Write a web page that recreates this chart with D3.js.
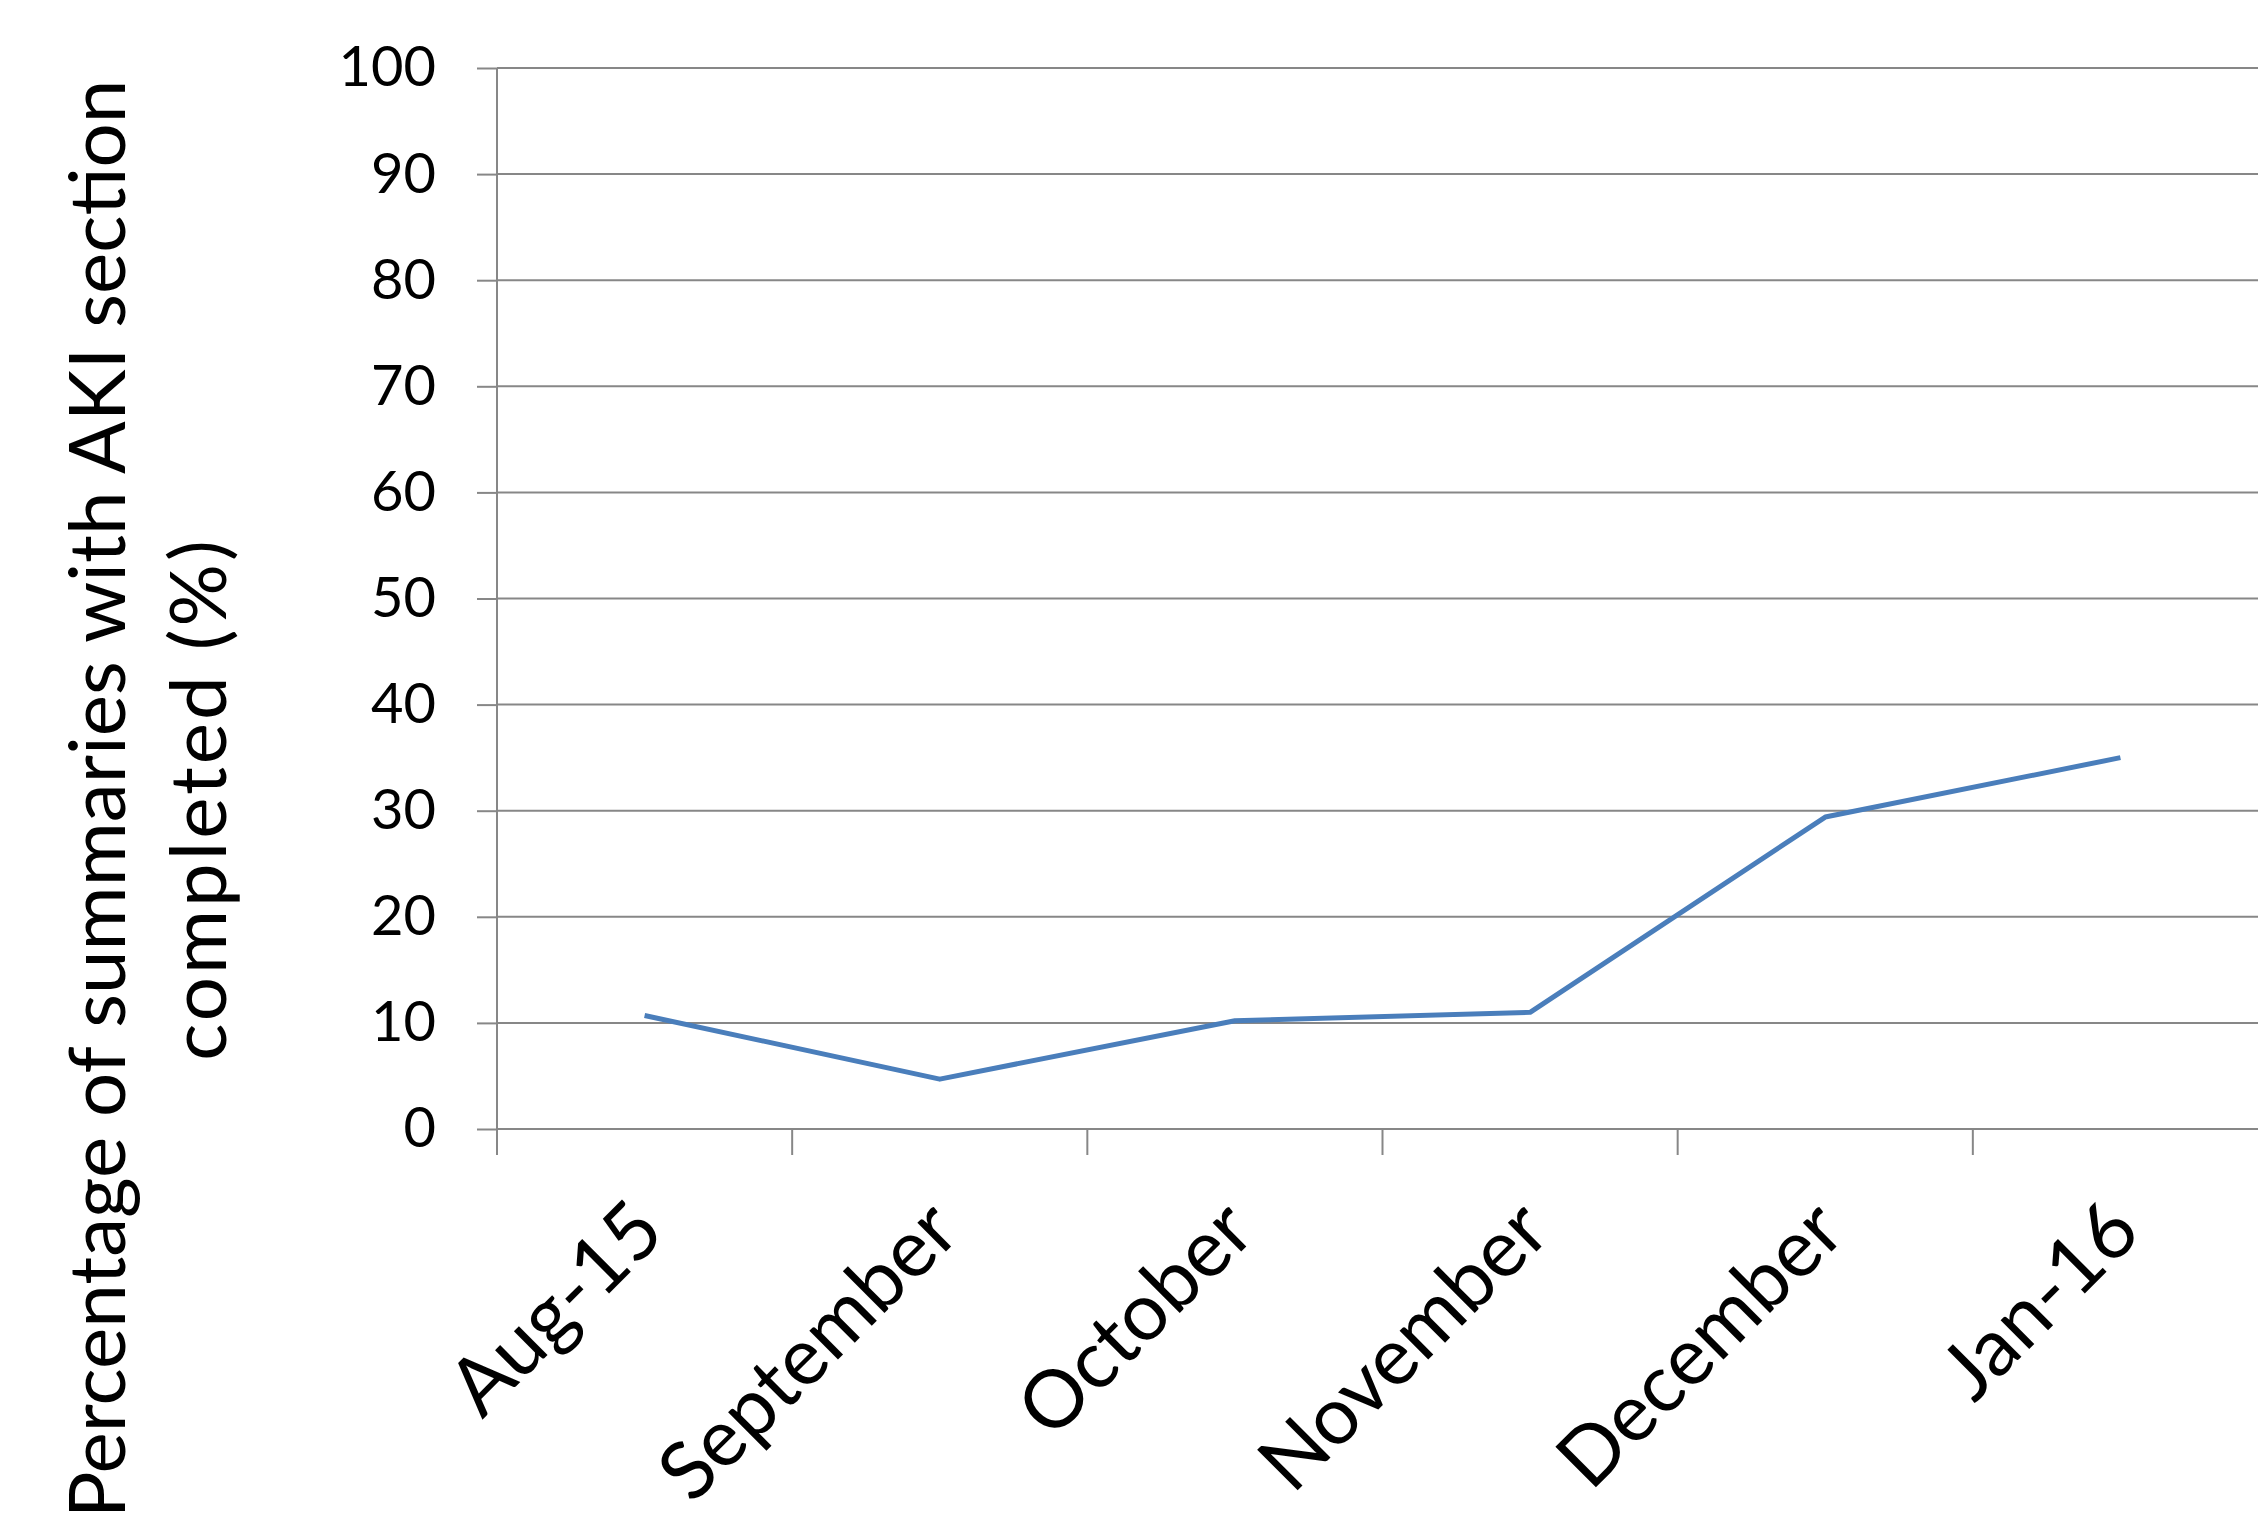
<!DOCTYPE html>
<html><head><meta charset="utf-8">
<script src="https://cdn.jsdelivr.net/npm/d3@7"></script>
<style>html,body{margin:0;padding:0;background:#fff;overflow:hidden}</style>
</head><body>
<svg id="c" width="2258" height="1514"></svg>
<script>
const categories = ["Aug-15","September","October","November","December","Jan-16"];
const values = [10.7, 4.7, 10.2, 11.0, 29.4, 35.0];
const yTicks = [0,10,20,30,40,50,60,70,80,90,100];
const yTitle = ["Percentage of summaries with AKI section","completed (%)"];

(function(){
const svg = d3.select("#c");
const pLeft = 497, pRight = 2268, pTop = 68, pBottom = 1129;
const font = "Lato, 'Open Sans', sans-serif";
const grid = "#878787";

const x = d3.scaleBand().domain(categories).range([pLeft, pRight]).paddingInner(0).paddingOuter(0);
const y = d3.scaleLinear().domain([0,100]).range([pBottom, pTop]);

const yAxis = d3.axisLeft(y).tickValues(yTicks).tickSize(20).tickPadding(41).tickFormat(d3.format("d"));
const gy = svg.append("g").attr("transform",`translate(${pLeft},0)`).call(yAxis);
gy.select(".domain").remove();
gy.selectAll(".tick line").attr("stroke",grid).attr("stroke-width",2);
gy.selectAll(".tick text").attr("font-family",font).attr("font-size",56).attr("fill","#000");

svg.append("g").selectAll("line").data(yTicks).join("line")
  .attr("x1",pLeft).attr("x2",2258).attr("y1",d=>y(d)).attr("y2",d=>y(d))
  .attr("stroke",grid).attr("stroke-width",2);

svg.append("line").attr("x1",pLeft).attr("x2",pLeft).attr("y1",pTop).attr("y2",pBottom)
  .attr("stroke",grid).attr("stroke-width",2);

const bounds = categories.map(c=>x(c)).concat([pRight]);
svg.append("g").selectAll("line").data(bounds).join("line")
  .attr("x1",d=>d).attr("x2",d=>d).attr("y1",pBottom).attr("y2",pBottom+26)
  .attr("stroke",grid).attr("stroke-width",2);

svg.append("g").selectAll("text").data(categories).join("text")
  .attr("transform",d=>`translate(${x(d)+x.bandwidth()/2+1},${pBottom+84}) rotate(-45)`)
  .attr("text-anchor","end").attr("dominant-baseline","central")
  .attr("font-family",font).attr("font-size",80).attr("fill","#000")
  .text(d=>d);

const line = d3.line().x((d,i)=>x(categories[i])+x.bandwidth()/2).y(d=>y(d));
svg.append("path").datum(values).attr("d",line).attr("fill","none")
  .attr("stroke","#4a7ebb").attr("stroke-width",5).attr("stroke-linejoin","round");

const tcy = 799;
svg.append("text").attr("transform",`translate(125,${tcy}) rotate(-90)`)
  .attr("text-anchor","middle").attr("font-family",font).attr("font-size",78)
  .attr("letter-spacing",0).attr("fill","#000")
  .text(yTitle[0]);
svg.append("text").attr("transform",`translate(226,${tcy}) rotate(-90)`)
  .attr("text-anchor","middle").attr("font-family",font).attr("font-size",78)
  .attr("letter-spacing",3).attr("fill","#000")
  .text(yTitle[1]);
})();
</script>
</body></html>
